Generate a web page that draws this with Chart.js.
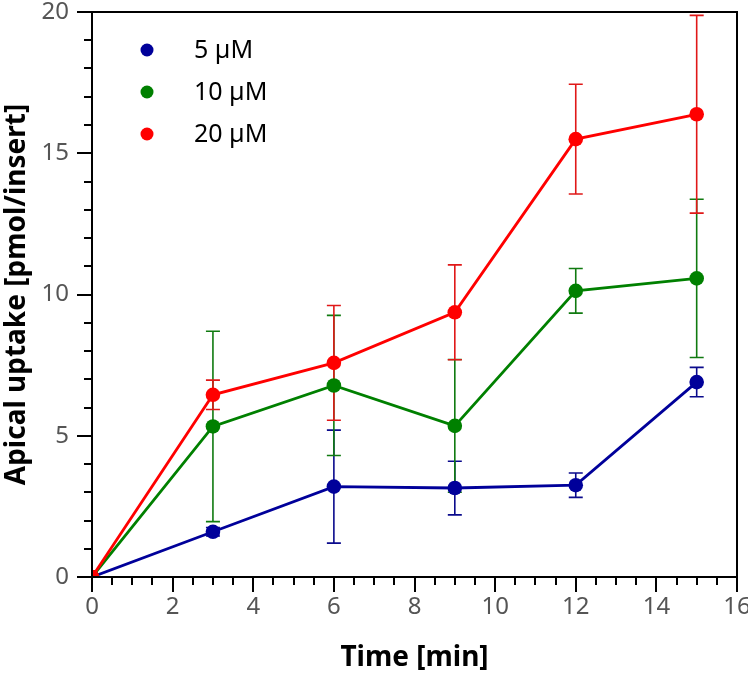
<!DOCTYPE html>
<html>
<head>
<meta charset="utf-8">
<script src="https://cdn.jsdelivr.net/npm/chart.js@4/dist/chart.umd.min.js"></script>
<style>
  html, body { margin: 0; padding: 0; background: #fff; }
  #wrap { width: 748px; height: 675px; position: relative; }
</style>
</head>
<body>
<div id="wrap"><canvas id="chart"></canvas></div>
<script>
// data
const times = [0, 3, 6, 9, 12, 15];
const seriesNames = ['5 µM', '10 µM', '20 µM'];
const uptake5 = [0, 1.6, 3.2, 3.15, 3.25, 6.9];
const err5 = [0, 0.15, 2.0, 0.95, 0.43, 0.52];
const uptake10 = [0, 5.33, 6.78, 5.35, 10.13, 10.57];
const err10 = [0, 3.37, 2.48, 2.35, 0.79, 2.8];
const uptake20 = [0, 6.45, 7.58, 9.37, 15.5, 16.38];
const err20 = [0, 0.52, 2.03, 1.68, 1.94, 3.5];
const xMajorTicks = [0, 2, 4, 6, 8, 10, 12, 14, 16];
const yMajorTicks = [0, 5, 10, 15, 20];

const colors = ['#00009a', '#008000', '#ff0000'];
const errColors = ['#0a0a8c', '#107a10', '#e01818'];
const means = [uptake5, uptake10, uptake20];
const errs = [err5, err10, err20];

const datasets = means.map((m, i) => ({
  label: seriesNames[i],
  data: times.map((t, j) => ({x: t, y: m[j]})),
  borderColor: colors[i],
  backgroundColor: colors[i],
  pointBackgroundColor: colors[i],
  pointBorderColor: colors[i],
  pointRadius: 7.3,
  pointBorderWidth: 0,
  borderWidth: 2.8,
  errors: errs[i],
  errColor: errColors[i],
  order: 3 - i
}));

// error bars, axis ticks, frame and legend
const extras = {
  id: 'extras',
  beforeDatasetsDraw(chart) {
    const ctx = chart.ctx;
    const xs = chart.scales.x, ys = chart.scales.y;
    ctx.save();
    ctx.lineWidth = 1.6;
    chart.data.datasets.forEach(ds => {
      ctx.strokeStyle = ds.errColor;
      ds.data.forEach((p, j) => {
        const e = ds.errors[j];
        if (!e) return;
        const px = xs.getPixelForValue(p.x);
        const top = ys.getPixelForValue(p.y + e);
        const bot = ys.getPixelForValue(p.y - e);
        ctx.beginPath();
        ctx.moveTo(px, top); ctx.lineTo(px, bot);
        ctx.moveTo(px - 7, top); ctx.lineTo(px + 7, top);
        ctx.moveTo(px - 7, bot); ctx.lineTo(px + 7, bot);
        ctx.stroke();
      });
    });
    ctx.restore();
  },
  afterDraw(chart) {
    const ctx = chart.ctx;
    const a = chart.chartArea;
    const xs = chart.scales.x, ys = chart.scales.y;
    ctx.save();
    ctx.strokeStyle = '#000';
    ctx.lineWidth = 2;
    ctx.strokeRect(a.left, a.top, a.right - a.left, a.bottom - a.top);
    ctx.beginPath();
    xs.ticks.forEach(t => {
      const px = Math.round(xs.getPixelForValue(t.value));
      const len = xMajorTicks.includes(t.value) ? 15 : 8;
      ctx.moveTo(px, a.bottom); ctx.lineTo(px, a.bottom + len);
    });
    ys.ticks.forEach(t => {
      const py = Math.round(ys.getPixelForValue(t.value));
      const len = yMajorTicks.includes(t.value) ? 15 : 8;
      ctx.moveTo(a.left, py); ctx.lineTo(a.left - len, py);
    });
    ctx.stroke();

    // legend inside plot
    ctx.font = '25px "Noto Sans"';
    ctx.textBaseline = 'middle';
    chart.data.datasets.forEach((ds, i) => {
      const y = a.top + 38 + i * 42;
      ctx.fillStyle = ds.backgroundColor;
      ctx.beginPath();
      ctx.arc(a.left + 55, y, 6.5, 0, Math.PI * 2);
      ctx.fill();
      ctx.fillStyle = '#000';
      ctx.fillText(ds.label, a.left + 102, y + 1);
    });
    ctx.restore();
  }
};

new Chart(document.getElementById('chart'), {
  type: 'line',
  data: { datasets: datasets },
  options: {
    responsive: true,
    maintainAspectRatio: false,
    animation: false,
    layout: { padding: { top: 12, right: 11, left: 0, bottom: 0 } },
    plugins: { legend: { display: false }, tooltip: { enabled: false } },
    scales: {
      x: {
        type: 'linear',
        min: 0, max: 16,
        afterFit: s => { s.height = 98; s.paddingRight = 11; s.paddingLeft = 0; },
        ticks: {
          stepSize: 0.5, autoSkip: false, maxRotation: 0,
          color: '#555',
          font: { family: '"Noto Sans"', size: 24, lineHeight: 1 },
          padding: 3,
          callback: v => xMajorTicks.includes(v) ? v : ''
        },
        grid: { drawOnChartArea: false, tickLength: 15, tickColor: 'rgba(0,0,0,0)' },
        border: { display: false },
        title: {
          display: true, text: 'Time [min]', color: '#000',
          font: { family: '"Noto Sans"', size: 28, weight: 'bold' },
          padding: { top: 0, bottom: 0 }
        }
      },
      y: {
        min: 0, max: 20,
        afterFit: s => { s.width = 92; s.paddingTop = 12; s.paddingBottom = 0; },
        ticks: {
          stepSize: 1, autoSkip: false,
          color: '#555',
          font: { family: '"Noto Sans"', size: 24, lineHeight: 1 },
          padding: 8,
          callback: v => yMajorTicks.includes(v) ? v : ''
        },
        grid: { drawOnChartArea: false, tickLength: 15, tickColor: 'rgba(0,0,0,0)' },
        border: { display: false },
        title: {
          display: true, text: 'Apical uptake [pmol/insert]', color: '#000',
          font: { family: '"Noto Sans"', size: 28, weight: 'bold' },
          padding: { top: 0, bottom: 0 }
        }
      }
    }
  },
  plugins: [extras]
});
</script>
</body>
</html>
